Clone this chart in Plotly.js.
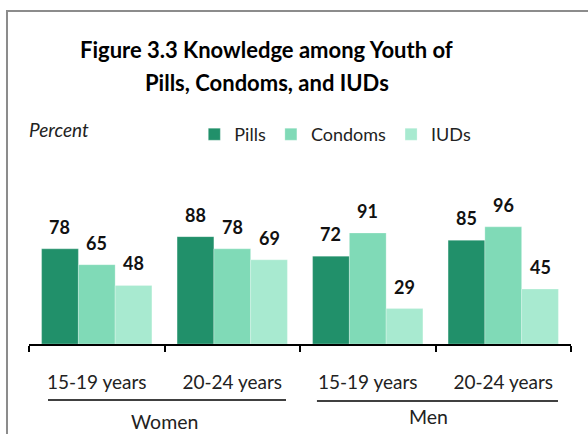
<!DOCTYPE html>
<html><head><meta charset="utf-8">
<script src="https://cdn.plot.ly/plotly-3.0.1.min.js"></script>
<style>html,body{margin:0;padding:0;background:#fff}#chart{width:588px;height:434px}</style>
</head><body><div id="chart"></div>
<script>
const categories = ["Women 15-19", "Women 20-24", "Men 15-19", "Men 20-24"];
const ageLabels = ["15-19 years", "20-24 years", "15-19 years", "20-24 years"];
const groupLabels = ["Women", "Men"];
const seriesNames = ["Pills", "Condoms", "IUDs"];
const pills = [78, 88, 72, 85];
const condoms = [65, 78, 91, 96];
const iuds = [48, 69, 29, 45];
const titleLines = ["Figure 3.3 Knowledge among Youth of", "Pills, Condoms, and IUDs"];
const yLabel = "Percent";

const colors = ["#21906a", "#80dab7", "#a8ead0"];
const FONT = "Lato, 'Open Sans', sans-serif";
const seriesVals = [pills, condoms, iuds];

const traces = seriesVals.map((vals, i) => ({
  type: "bar", name: seriesNames[i], x: categories, y: vals,
  marker: {color: colors[i], line: {color: "rgba(255,255,255,0.5)", width: 0.5}},
  hoverinfo: "skip"
}));

const barPx = 36.8;
const annotations = [];
seriesVals.forEach((vals, i) => {
  vals.forEach((v, j) => {
    annotations.push({
      xref: "x", yref: "y", x: j, y: v, text: "<b>" + v + "</b>",
      showarrow: false, xanchor: "center", yanchor: "bottom",
      xshift: (i - 1) * barPx, yshift: 9,
      font: {family: FONT, size: 18, color: "#111"}
    });
  });
});
annotations.push({xref: "paper", yref: "paper", x: 0.439, y: 1.517, text: "<b>" + titleLines[0] + "</b>",
  showarrow: false, xanchor: "center", yanchor: "middle", font: {family: FONT, size: 22, color: "#000"}});
annotations.push({xref: "paper", yref: "paper", x: 0.439, y: 1.347, text: "<b>" + titleLines[1] + "</b>",
  showarrow: false, xanchor: "center", yanchor: "middle", font: {family: FONT, size: 22, color: "#000"}});
annotations.push({xref: "paper", yref: "paper", x: -0.004, y: 1.105, text: "<i>" + yLabel + "</i>",
  showarrow: false, xanchor: "left", yanchor: "middle", font: {family: FONT, size: 19, color: "#222"}});
annotations.push({xref: "x", yref: "paper", x: 0.5, y: -0.397, text: groupLabels[0],
  showarrow: false, xanchor: "center", yanchor: "middle", font: {family: FONT, size: 19.5, color: "#222"}});
annotations.push({xref: "x", yref: "paper", x: 2.45, y: -0.376, text: groupLabels[1],
  showarrow: false, xanchor: "center", yanchor: "middle", font: {family: FONT, size: 19.5, color: "#222"}});

const shapes = [
  {type: "rect", xref: "paper", yref: "paper", x0: -0.0406, x1: 1.2, y0: -0.7, y1: 1.716,
   line: {color: "#8c8c8c", width: 2}, fillcolor: "rgba(0,0,0,0)"},
  {type: "line", xref: "x", yref: "paper", x0: -0.36, x1: 1.397, y0: -0.289, y1: -0.289,
   line: {color: "#000", width: 1.5}},
  {type: "line", xref: "x", yref: "paper", x0: 1.625, x1: 3.404, y0: -0.294, y1: -0.294,
   line: {color: "#000", width: 1.5}}
];

const layout = {
  width: 588, height: 434,
  margin: {l: 29, r: 17, t: 150, b: 90, pad: 0},
  paper_bgcolor: "#fff", plot_bgcolor: "#fff",
  barmode: "group", bargap: 0.186, bargroupgap: 0,
  font: {family: FONT, size: 16, color: "#222"},
  showlegend: true,
  legend: {orientation: "h", x: 0.305, xanchor: "left", y: 1.08, yanchor: "middle",
    font: {family: FONT, size: 18, color: "#222"}, bgcolor: "rgba(0,0,0,0)", traceorder: "normal"},
  xaxis: {type: "category", tickmode: "array", tickvals: categories, ticktext: ageLabels,
    showline: true, linecolor: "#000", linewidth: 2, ticks: "outside", tickson: "boundaries",
    ticklen: 6, tickwidth: 2, tickcolor: "#000", ticklabelstandoff: 20,
    tickfont: {family: FONT, size: 19, color: "#222"}, showgrid: false, zeroline: false, fixedrange: true},
  yaxis: {range: [0, 159], visible: false, showgrid: false, zeroline: false, fixedrange: true},
  annotations: annotations, shapes: shapes
};

Plotly.newPlot("chart", traces, layout, {displayModeBar: false, staticPlot: true});
</script></body></html>
